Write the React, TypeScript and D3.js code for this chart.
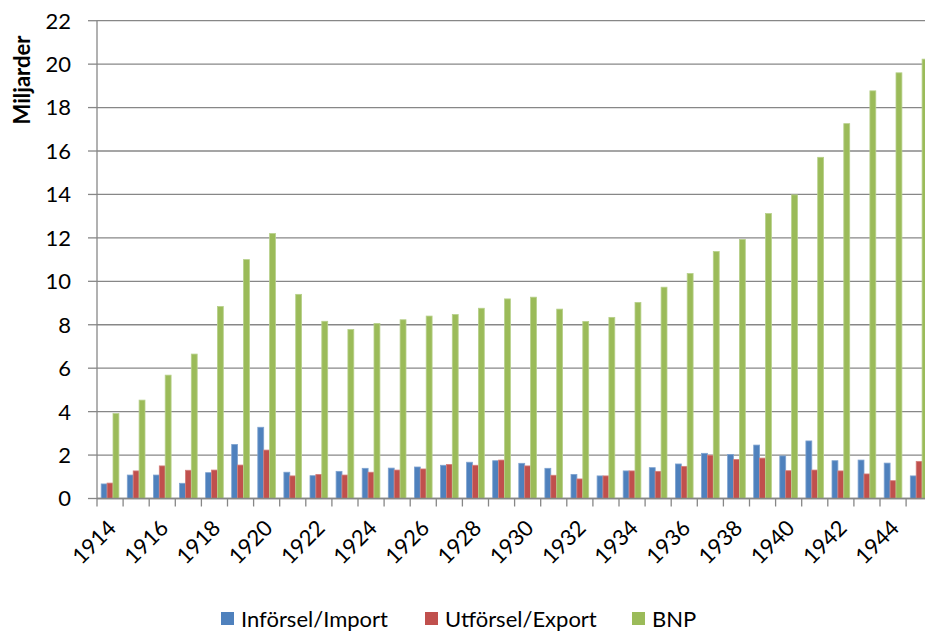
import React from "react";
import * as d3 from "d3";

const years = d3.range(1914, 1946).map(String);
const importValues = [0.67, 1.08, 1.08, 0.7, 1.19, 2.49, 3.28, 1.21, 1.05, 1.25, 1.39, 1.4, 1.45, 1.53, 1.67, 1.74, 1.62, 1.39, 1.11, 1.04, 1.27, 1.42, 1.59, 2.08, 2.03, 2.46, 1.96, 2.65, 1.74, 1.77, 1.63, 1.04];
const exportValues = [0.71, 1.27, 1.5, 1.3, 1.31, 1.54, 2.23, 1.04, 1.11, 1.08, 1.21, 1.31, 1.36, 1.57, 1.53, 1.77, 1.5, 1.07, 0.9, 1.04, 1.27, 1.25, 1.48, 1.99, 1.8, 1.86, 1.28, 1.31, 1.27, 1.13, 0.82, 1.71];
const bnpValues = [3.91, 4.53, 5.68, 6.65, 8.84, 11.0, 12.2, 9.4, 8.16, 7.78, 8.06, 8.23, 8.4, 8.47, 8.76, 9.19, 9.27, 8.72, 8.15, 8.34, 9.03, 9.73, 10.36, 11.37, 11.93, 13.12, 13.98, 15.71, 17.26, 18.77, 19.6, 20.23];
const seriesNames = ["Införsel/Import", "Utförsel/Export", "BNP"];
const seriesColors = ["#4F81BD", "#C0504D", "#9BBB59"];
const seriesEdges = ["#7FA3D0", "#D47F7C", "#B7D08A"];
const yTicks = [0, 2, 4, 6, 8, 10, 12, 14, 16, 18, 20, 22];
const yLabel = "Miljarder";

const W = 925;
const H = 632;
const FONT = "Lato, 'Open Sans', sans-serif";

export default function App() {
  const left = 97;
  const bandW = 26.1;
  const x = d3.scaleBand<string>().domain(years).range([left, left + bandW * years.length]);
  const inner = d3.scaleBand<number>().domain([0, 1, 2]).range([4.2, 21.9]);
  const y = d3.scaleLinear().domain([0, 22]).range([498.5, 20.7]);
  const series = [importValues, exportValues, bnpValues];
  const gridColor = "#878787";
  const legendX = [221, 425, 632];

  return (
    <svg width={W} height={H} style={{ display: "block", position: "absolute", left: 0, top: 0 }} fontFamily={FONT}>
      <rect width={W} height={H} fill="#fff" />
      {/* horizontal gridlines and y ticks */}
      {yTicks.map((t) => (
        <g key={t}>
          <line x1={left} x2={W} y1={y(t)} y2={y(t)} stroke={gridColor} strokeWidth={1.3} />
          <line x1={88} x2={left} y1={y(t)} y2={y(t)} stroke={gridColor} strokeWidth={1.3} />
          <text x={71} y={y(t)} dy="0.36em" textAnchor="end" fontSize={22} fill="#000">{t}</text>
        </g>
      ))}
      {/* bars */}
      {series.map((vals, si) => (
        <g key={si} fill={seriesColors[si]} stroke={seriesEdges[si]} strokeWidth={0.8}>
          {vals.map((v, i) => (
            <rect key={i} x={(x(years[i]) as number) + (inner(si) as number)} width={inner.bandwidth()} y={y(v)} height={y(0) - y(v)} />
          ))}
        </g>
      ))}
      {/* axes */}
      <line x1={left} x2={left} y1={y(22)} y2={y(0)} stroke={gridColor} strokeWidth={1.3} />
      <line x1={left} x2={W} y1={y(0)} y2={y(0)} stroke={gridColor} strokeWidth={1.3} />
      {years.map((yr) => (
        <line key={yr} x1={(x(yr) as number)} x2={(x(yr) as number)} y1={y(0)} y2={y(0) + 8} stroke={gridColor} strokeWidth={1.3} />
      ))}
      {years.map((yr, i) =>
        i % 2 === 0 ? (
          <text key={yr} transform={`translate(${(x(yr) as number) + bandW / 2 + 2},${524}) rotate(-45)`} textAnchor="end" dy="0.35em" fontSize={22} fill="#000">{yr}</text>
        ) : null
      )}
      <text transform={`translate(30,80) rotate(-90)`} textAnchor="middle" fontSize={22} fontWeight="bold" fill="#000">{yLabel}</text>
      {/* legend */}
      {seriesNames.map((n, i) => (
        <g key={n}>
          <rect x={legendX[i]} y={612} width={13} height={13} fill={seriesColors[i]} />
          <text x={legendX[i] + 20} y={627} fontSize={22} fill="#000">{n}</text>
        </g>
      ))}
    </svg>
  );
}
